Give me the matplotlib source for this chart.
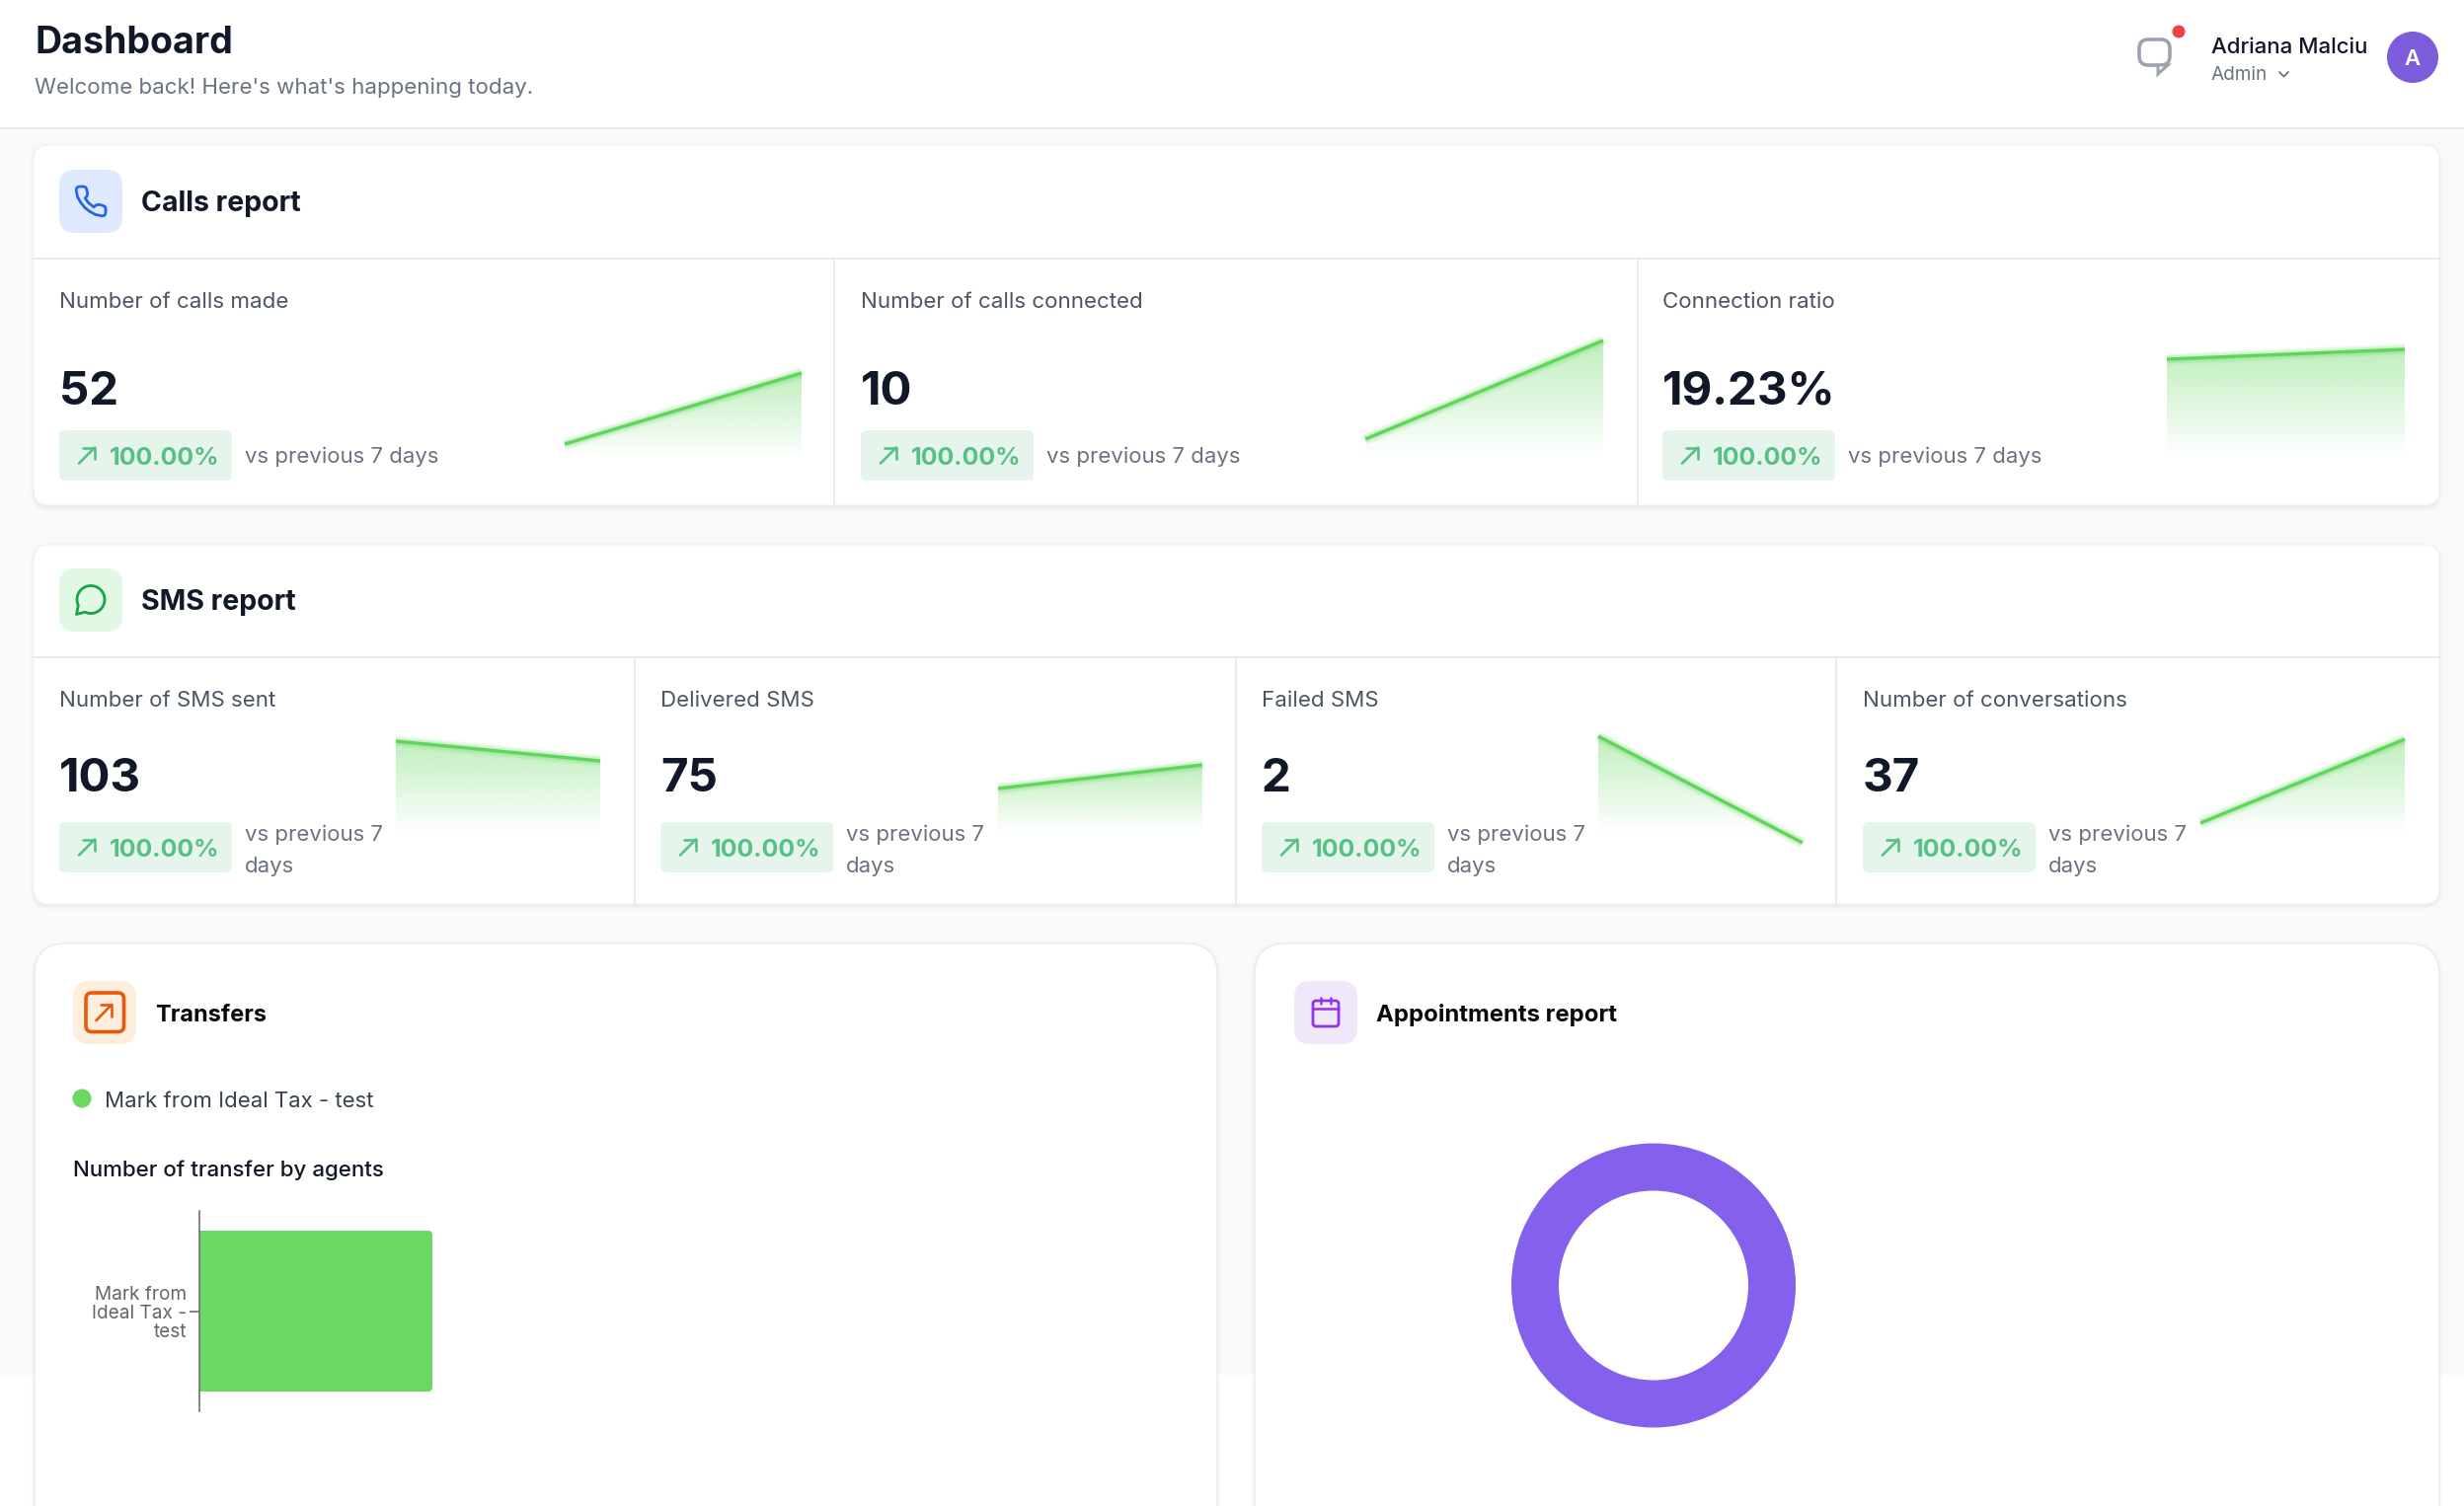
import numpy as np
import matplotlib
matplotlib.use("Agg")
import matplotlib.pyplot as plt
from matplotlib.patches import FancyBboxPatch, Circle, Rectangle, Polygon
from matplotlib.colors import to_rgb

W, H = 2496, 1526

calls_titles = ["Number of calls made", "Number of calls connected", "Connection ratio"]
calls_values = ["52", "10", "19.23%"]
calls_changes = ["100.00%", "100.00%", "100.00%"]
calls_spark = [[14, 86], [19, 119], [100, 110]]

sms_titles = ["Number of SMS sent", "Delivered SMS", "Failed SMS", "Number of conversations"]
sms_values = ["103", "75", "2", "37"]
sms_changes = ["100.00%", "100.00%", "100.00%", "100.00%"]
sms_spark = [[93, 73], [45, 69], [98, -10], [10, 95]]

transfer_agents = ["Mark from Ideal Tax - test"]
transfer_counts = [1]
appointment_counts = [1]

GREEN = "#69d964"
INK = "#111827"
GREY = "#6b7280"
LABEL = "#4b5563"
FONT = "Inter"

plt.rcParams["font.family"] = [FONT, "DejaVu Sans"]

fig = plt.figure(figsize=(W / 100, H / 100), dpi=100, facecolor="white")
bg = fig.add_axes([0, 0, 1, 1])
bg.set_xlim(0, W)
bg.set_ylim(H, 0)
bg.axis("off")


def px_axes(x0, y0, x1, y1):
	ax = fig.add_axes([x0 / W, 1 - y1 / H, (x1 - x0) / W, (y1 - y0) / H])
	ax.patch.set_alpha(0)
	return ax


def label(x, y, s, size, color=INK, weight="normal", ha="left"):
	bg.text(x, y, s, fontsize=size * 0.72, color=color, fontweight=weight, ha=ha, va="center_baseline")


def rbox(x0, y0, x1, y1, r, color, z=2, ec="none", lw=0, alpha=None):
	p = FancyBboxPatch((x0, y0), x1 - x0, y1 - y0, boxstyle=f"round,pad=0,rounding_size={r}",
		fc=color, ec=ec, lw=lw, zorder=z, alpha=alpha)
	bg.add_patch(p)
	return p


def card(x0, y0, x1, y1, r, border="#f1f2f4"):
	# soft drop shadow under the white card
	for grow, a in [(4, 0.008), (2.5, 0.014), (1, 0.025)]:
		rbox(x0 - grow, y0 - grow + 2, x1 + grow, y1 + grow + 2, r + grow, "#111827", z=1.5, alpha=a)
	rbox(x0, y0, x1, y1, r, "white", z=2, ec=border, lw=0.7)


def stroke(xs, ys, color, lw=2.0, z=4):
	bg.plot(xs, ys, color=color, lw=lw, solid_capstyle="round", solid_joinstyle="round", zorder=z)


def up_arrow(x0, y0, x1, y1, color, lw=1.9, head=0.72):
	stroke([x0, x1], [y1, y0], color, lw)
	stroke([x1 - (x1 - x0) * head, x1, x1], [y0, y0, y0 + (y1 - y0) * head], color, lw)


def spark(x0, x1, y0, y1, ymin, ymax, values):
	ax = px_axes(x0, y0, x1, y1)
	xs = [0, 1]
	fill = ax.fill_between(xs, values, 0, facecolor="none", edgecolor="none")
	grad = np.zeros((256, 1, 4))
	grad[:, :, :3] = to_rgb(GREEN)
	grad[:, 0, 3] = np.linspace(0.42, 0, 256)
	im = ax.imshow(grad, extent=[0, 1, 0, max(values)], aspect="auto", origin="upper", interpolation="bilinear")
	im.set_clip_path(fill.get_paths()[0], transform=ax.transData)
	for lw, a in [(9, 0.07), (7, 0.11), (5, 0.18)]:
		ax.plot(xs, values, color=GREEN, lw=lw, alpha=a, solid_capstyle="butt", clip_on=False)
	ax.plot(xs, values, color="#5fd65a", lw=2.4, solid_capstyle="butt", clip_on=False)
	ax.set_xlim(0, 1)
	ax.set_ylim(ymin, ymax)
	ax.axis("off")


def badge(x, y0, y1, text):
	rbox(x, y0, x + 175, y1, 6, "#e6f5ec", z=3)
	cy = (y0 + y1) / 2
	up_arrow(x + 20, cy - 8, x + 36, cy + 8, "#57c084")
	label(x + 51, cy + 0.5, text, 25, "#57c084", "bold")


# page background and header
bg.add_patch(Rectangle((0, 0), W, 1393, fc="#f8f9fb", ec="none", zorder=0))
bg.add_patch(Rectangle((0, 0), W, 129, fc="white", ec="none", zorder=1))
bg.plot([0, W], [129.5, 129.5], color="#e5e7eb", lw=1.2, zorder=1)
label(35, 40, "Dashboard", 37.5, INK, "bold")
label(35, 87, "Welcome back! Here's what's happening today.", 22.3, GREY)

# chat icon with unread dot
rbox(2167, 40, 2198, 66, 9, "none", z=4, ec="#9ca3af", lw=2.6)
bg.add_patch(Polygon([[2186, 66], [2196, 66], [2186, 75]], closed=True, fc="white", ec="#9ca3af", lw=2.2, zorder=5))
bg.add_patch(Circle((2207, 32), 6.5, fc="#ef4444", ec="none", zorder=5))
label(2240, 46, "Adriana Malciu", 22.3, INK, "medium")
label(2240, 74, "Admin", 19, GREY)
stroke([2309, 2313.5, 2318], [73, 77.5, 73], GREY, 1.3)
bg.add_patch(Circle((2444, 58), 26, fc="#7c5cdb", ec="none", zorder=4))
bg.text(2444, 58, "A", fontsize=16, color="white", fontweight="semibold", ha="center", va="center_baseline", zorder=5)

# calls report
card(34, 147, 2471, 512, 16)
bg.plot([34, 2471], [262, 262], color="#e5e7eb", lw=1.2, zorder=3)
for vx in [845, 1659]:
	bg.plot([vx, vx], [262, 512], color="#e5e7eb", lw=1.2, zorder=3)
rbox(60, 172, 124, 236, 16, "#dfe9fd", z=3)
phone = np.array([[22, 16.9], [22, 19.9], [21.4, 21.4], [19.8, 21.9], [15.2, 21], [11.2, 18.8], [8, 16.3], [5.2, 12.8],
	[3, 9], [2.1, 4.2], [2.6, 2.7], [4.1, 2], [7.1, 2], [8.6, 2.6], [9.1, 3.7], [9.8, 6.5], [9.4, 8.6], [8.1, 9.9],
	[10.6, 13.2], [14.1, 15.9], [15.4, 14.6], [17.5, 14.2], [20.3, 14.9], [21.6, 15.6]])
bg.add_patch(Polygon(phone * 1.5 + [74, 186], closed=True, fc="none", ec="#2563eb", lw=2.0, joinstyle="round", zorder=4))
label(143, 204, "Calls report", 28.5, INK, "bold")

calls_x = [60, 872, 1684]
calls_spark_x = [(572, 812), (1383, 1624), (2195, 2436)]
for i in range(3):
	x = calls_x[i]
	label(x, 393, calls_values[i], 47.5, INK, "bold")
	label(x, 304, calls_titles[i], 22.3, LABEL)
	badge(x, 436, 487, calls_changes[i])
	label(x + 188, 461, "vs previous 7 days", 22.2, GREY)
	spark(calls_spark_x[i][0], calls_spark_x[i][1], 339, 464, 0, 125, calls_spark[i])

# sms report
card(34, 552, 2471, 916, 16)
bg.plot([34, 2471], [666, 666], color="#e5e7eb", lw=1.2, zorder=3)
for vx in [642.5, 1251.5, 1860]:
	bg.plot([vx, vx], [666, 916], color="#e5e7eb", lw=1.2, zorder=3)
rbox(60, 576, 124, 640, 16, "#e1f9e4", z=3)
t = np.radians(np.linspace(245, 565, 60))
bubble = np.column_stack([92 + 14 * np.cos(t), 607.5 - 14 * np.sin(t)])
bubble = np.vstack([bubble, [[77.5, 622.5]]])
bg.add_patch(Polygon(bubble, closed=True, fc="none", ec="#16a34a", lw=2.0, joinstyle="round", zorder=4))
label(143, 608, "SMS report", 28.5, INK, "bold")

sms_x = [60, 669, 1278, 1887]
sms_spark_x = [(401, 608), (1011, 1218), (1619, 1826), (2229, 2436)]
for i in range(4):
	x = sms_x[i]
	label(x, 708.5, sms_titles[i], 22.3, LABEL)
	label(x, 785, sms_values[i], 47.5, INK, "bold")
	badge(x, 833, 884, sms_changes[i])
	label(x + 188, 843.5, "vs previous 7", 22.2, GREY)
	label(x + 188, 876, "days", 22.2, GREY)
	spark(sms_spark_x[i][0], sms_spark_x[i][1], 734, 864, -20, 110, sms_spark[i])

# transfers card
card(35, 956, 1233, 1560, 32, border="#e5e7eb")
rbox(74, 994, 138, 1058, 16, "#fdeedd", z=3)
rbox(87, 1006, 125.5, 1045.5, 6, "none", z=4, ec="#ea580c", lw=2.6)
up_arrow(97.5, 1018, 113, 1034, "#ea580c", lw=1.9)
label(157, 1026.5, "Transfers", 23.5, "#0a0a0a", "bold")
bg.add_patch(Circle((83, 1113), 9.5, fc=GREEN, ec="none", zorder=4))
label(106, 1113.5, transfer_agents[0], 22.2, "#374151")
label(74, 1183.5, "Number of transfer by agents", 22.3, INK, "medium")

bar_ax = px_axes(202, 1227, 1202, 1430)
bars = bar_ax.barh([0], transfer_counts, height=0.805, color=GREEN)
bar_ax.set_xlim(0, 4.237)
bar_ax.set_ylim(-0.5, 0.5)
bar_ax.set_xticks([])
bar_ax.set_yticks([0], labels=["Mark from\nIdeal Tax -\ntest"])
bar_ax.tick_params(axis="y", length=7, width=1.1, color="#666666", labelcolor="#666666", labelsize=13.7, pad=2)
for tl in bar_ax.get_yticklabels():
	tl.set_multialignment("right")
	tl.set_linespacing(1.08)
for side in ["top", "right", "bottom"]:
	bar_ax.spines[side].set_visible(False)
bar_ax.spines["left"].set_color("#666666")
bar_ax.spines["left"].set_linewidth(1.1)
# round the far end of the bar a little
corner = FancyBboxPatch((-0.1, -0.4025), 1.1, 0.805, boxstyle="round,pad=0,rounding_size=0.021",
	mutation_aspect=1.163, transform=bar_ax.transData, fc="none", ec="none")
bar_ax.add_patch(corner)
bars[0].set_clip_path(corner)

# appointments card
card(1271, 956, 2471, 1560, 32, border="#e5e7eb")
rbox(1311, 994, 1375, 1058, 16, "#f1e7fb", z=3)
rbox(1330, 1014, 1356, 1040, 3, "none", z=4, ec="#9333ea", lw=2.0)
stroke([1330, 1356], [1022, 1022], "#9333ea", 1.8)
stroke([1337.5, 1337.5], [1011, 1017], "#9333ea", 1.8)
stroke([1348, 1348], [1011, 1017], "#9333ea", 1.8)
label(1394, 1026.5, "Appointments report", 23.9, "#0a0a0a", "bold")

pie_ax = px_axes(1531, 1158.5, 1819, 1446.5)
pie_ax.pie(appointment_counts, radius=1, colors=["#8460ec"], wedgeprops={"width": 1 - 96 / 144})
pie_ax.set_xlim(-1, 1)
pie_ax.set_ylim(-1, 1)

fig.savefig("out.png", dpi=100, facecolor="white")
